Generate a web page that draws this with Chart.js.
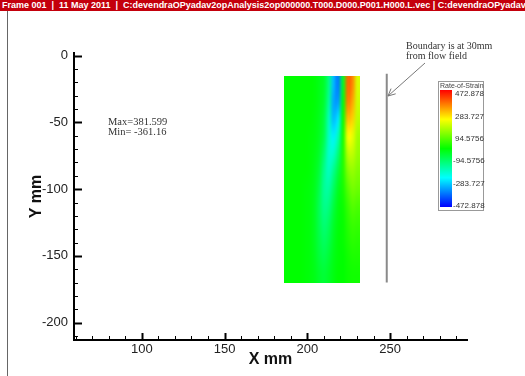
<!DOCTYPE html>
<html>
<head>
<meta charset="utf-8">
<script src="https://cdn.jsdelivr.net/npm/chart.js@4.4.1/dist/chart.umd.min.js"></script>
<style>
body{margin:0;background:#fff;}
#wrap{position:relative;width:525px;height:376px;overflow:hidden;background:#fff;}
#hdr{position:absolute;left:0;top:0;width:523px;height:11px;background:#c4000c;color:#fff;font:bold 9px "Liberation Sans",Arial,sans-serif;line-height:11px;white-space:nowrap;overflow:hidden;padding-left:2px;}
canvas{position:absolute;left:0;top:0;}
</style>
</head>
<body>
<div id="wrap">
<canvas id="cv" width="525" height="376"></canvas>
<div id="hdr">Frame 001 &nbsp;|&nbsp; 11 May 2011 &nbsp;|&nbsp; C:devendraOPyadav2opAnalysis2op000000.T000.D000.P001.H000.L.vec | C:devendraOPyadav2opAnalysis2op000000.T000</div>
</div>
<script>

// axis ranges (mm)
var xRange = [59, 296.5];
var yRange = [-213, 2];

// extent of the measured field (mm)
var fieldX = [185.7, 231.6];
var fieldY = [-15, -170];

// rate-of-strain samples, rows top -> bottom, columns left -> right
var rateOfStrain = [
	[0, 0, 0, 0, 0,  0,  -5, -20, -40, -120, -300, -360, -30, 380, 350, 200],
	[0, 0, 0, 0, 0,  0,  -5, -20, -45, -140, -320, -330, -10, 360, 320, 190],
	[0, 0, 0, 0, 0,  0,  -8, -25, -60, -170, -300, -260,  10, 300, 280, 175],
	[0, 0, 0, 0, 0, -5, -10, -30, -70, -180, -250, -170,  20, 230, 220, 150],
	[0, 0, 0, 0, 0, -5, -15, -40,-100, -190, -190, -110,  30, 170, 180, 140],
	[0, 0, 0, 0, 0, -5, -20, -55,-130, -180, -130,  -60,  30, 120, 140, 120],
	[0, 0, 0, 0,-5,-10, -25, -70,-140, -150,  -90,  -30,  20,  80, 110, 100],
	[0, 0, 0, 0,-5,-10, -30, -80,-130, -120,  -60,  -15,  10,  50,  80,  70],
	[0, 0, 0, 0,-5,-10, -30, -75,-110,  -90,  -40,  -10,   5,  35,  55,  50],
	[0, 0, 0, 0,-5,-10, -30, -65, -90,  -70,  -30,   -5,   5,  25,  40,  35],
	[0, 0, 0, 0,-5,-10, -25, -55, -70,  -50,  -20,   -5,   0,  15,  25,  25],
	[0, 0, 0, 0,-5,-10, -20, -40, -50,  -35,  -15,    0,   0,  10,  15,  15]
];

// boundary line at 30mm from the flow field
var boundaryX = [248, 248];
var boundaryY = [-13.5, -170];

// contour legend
var legendLevels = [472.878, 283.727, 94.5756, -94.5756, -283.727, -472.878];
var legendColors = ['#0000ff', '#00ffff', '#00ff00', '#ffff00', '#ff0000'];
var fieldMax = '381.599';
var fieldMin = '-361.16';

function hexRgb(h){
	return [parseInt(h.substr(1,2),16), parseInt(h.substr(3,2),16), parseInt(h.substr(5,2),16)];
}

function colorFor(v){
	var lo = legendLevels[legendLevels.length-1], hi = legendLevels[0];
	var t = (v - lo) / (hi - lo);
	t = Math.max(0, Math.min(1, t));
	var n = legendColors.length - 1;
	var k = Math.min(n - 1, Math.floor(t * n));
	var f = t * n - k;
	var a = hexRgb(legendColors[k]), b = hexRgb(legendColors[k+1]);
	return [a[0]+(b[0]-a[0])*f, a[1]+(b[1]-a[1])*f, a[2]+(b[2]-a[2])*f];
}

var fieldPlugin = {
	id: 'field',
	beforeDatasetsDraw: function(chart){
		var xs = chart.scales.x, ys = chart.scales.y, ctx = chart.ctx;
		var rows = rateOfStrain.length, cols = rateOfStrain[0].length;
		var off = document.createElement('canvas');
		off.width = cols; off.height = rows;
		var octx = off.getContext('2d');
		var img = octx.createImageData(cols, rows);
		for (var r = 0; r < rows; r++){
			for (var c = 0; c < cols; c++){
				var col = colorFor(rateOfStrain[r][c]);
				var i = (r * cols + c) * 4;
				img.data[i] = col[0]; img.data[i+1] = col[1]; img.data[i+2] = col[2]; img.data[i+3] = 255;
			}
		}
		octx.putImageData(img, 0, 0);
		var x0 = xs.getPixelForValue(fieldX[0]), x1 = xs.getPixelForValue(fieldX[1]);
		var y0 = ys.getPixelForValue(fieldY[0]), y1 = ys.getPixelForValue(fieldY[1]);
		ctx.save();
		ctx.imageSmoothingEnabled = true;
		ctx.imageSmoothingQuality = 'high';
		ctx.drawImage(off, x0, y0, x1 - x0, y1 - y0);
		ctx.restore();
	}
};

// inward tick marks like the original plot
var tickPlugin = {
	id: 'inTicks',
	afterDraw: function(chart){
		var ctx = chart.ctx, xs = chart.scales.x, ys = chart.scales.y, area = chart.chartArea;
		ctx.save();
		ctx.strokeStyle = '#000';
		xs.ticks.forEach(function(t){
			if (t.value % 10 !== 0) return;
			var major = t.value % 50 === 0;
			var px = Math.round(xs.getPixelForValue(t.value)) + 0.5;
			ctx.lineWidth = major ? 2 : 1;
			ctx.beginPath(); ctx.moveTo(px, area.bottom); ctx.lineTo(px, area.bottom - (major ? 7 : 4)); ctx.stroke();
		});
		ys.ticks.forEach(function(t){
			if (t.value % 10 !== 0) return;
			var major = t.value % 50 === 0;
			var py = Math.round(ys.getPixelForValue(t.value)) + 0.5;
			ctx.lineWidth = major ? 2 : 1;
			ctx.beginPath(); ctx.moveTo(area.left, py); ctx.lineTo(area.left + (major ? 8 : 4), py); ctx.stroke();
		});
		ctx.restore();
	}
};

var notePlugin = {
	id: 'notes',
	afterDraw: function(chart){
		var ctx = chart.ctx;
		ctx.save();

		// frame edge
		ctx.strokeStyle = '#666'; ctx.lineWidth = 1;
		ctx.beginPath(); ctx.moveTo(7.5, 11); ctx.lineTo(7.5, 376); ctx.stroke();

		// max / min
		ctx.fillStyle = '#333';
		ctx.font = '10.5px "Liberation Serif", serif';
		ctx.textBaseline = 'middle'; ctx.textAlign = 'left';
		ctx.fillText('Max=' + fieldMax, 108, 122);
		ctx.fillText('Min= ' + fieldMin, 108, 132);

		// boundary note with arrow
		ctx.font = '10px "Liberation Serif", serif';
		ctx.fillText('Boundary is at 30mm', 406, 46);
		ctx.fillText('from flow field', 406, 56);
		ctx.strokeStyle = '#777'; ctx.lineWidth = 1;
		var tx = 388, ty = 96, sx = 425, sy = 63;
		ctx.beginPath(); ctx.moveTo(sx, sy); ctx.lineTo(tx, ty); ctx.stroke();
		var ang = Math.atan2(sy - ty, sx - tx);
		ctx.beginPath();
		ctx.moveTo(tx + 8 * Math.cos(ang + 0.45), ty + 8 * Math.sin(ang + 0.45));
		ctx.lineTo(tx, ty);
		ctx.lineTo(tx + 8 * Math.cos(ang - 0.45), ty + 8 * Math.sin(ang - 0.45));
		ctx.stroke();

		// colour legend
		var bx = 440, by0 = 90, by1 = 207;
		ctx.strokeStyle = '#999';
		ctx.strokeRect(438.5, 81.5, 45, 129);
		var g = ctx.createLinearGradient(0, by1, 0, by0);
		legendColors.forEach(function(c, i){ g.addColorStop(i / (legendColors.length - 1), c); });
		ctx.fillStyle = g;
		ctx.fillRect(bx, by0, 12, by1 - by0);
		ctx.fillStyle = '#444';
		ctx.font = '7px "Liberation Sans", Arial, sans-serif';
		ctx.fillText('Rate-of-Strain', 440, 86);
		ctx.font = '8px "Liberation Sans", Arial, sans-serif';
		ctx.fillStyle = '#333';
		legendLevels.forEach(function(v, i){
			var y = 94 + i * (206 - 94) / (legendLevels.length - 1);
			ctx.fillText(String(v), v < 0 ? 453 : 455, y);
		});
		ctx.restore();
	}
};

var labelFont = { family: '"Liberation Sans", Arial, sans-serif', size: 13 };
var titleFont = { family: '"Liberation Sans", Arial, sans-serif', size: 16, weight: 'bold' };

new Chart(document.getElementById('cv'), {
	type: 'scatter',
	data: {
		datasets: [{
			data: boundaryX.map(function(x, i){ return { x: x, y: boundaryY[i] }; }),
			showLine: true,
			borderColor: '#8a8a8a',
			borderWidth: 2,
			pointRadius: 0
		}]
	},
	options: {
		responsive: false,
		animation: false,
		layout: { padding: { top: 53, right: 58, bottom: 0, left: 0 } },
		plugins: { legend: { display: false }, tooltip: { enabled: false } },
		scales: {
			x: {
				type: 'linear',
				min: xRange[0], max: xRange[1],
				afterFit: function(s){ s.height = 36; },
				border: { display: true, color: '#000', width: 2 },
				grid: { display: true, drawOnChartArea: false, drawTicks: false },
				ticks: {
					stepSize: 10, includeBounds: false, autoSkip: false, maxRotation: 0,
					padding: 2, color: '#222', font: labelFont,
					callback: function(v){ return v % 50 === 0 ? String(v) : ''; }
				},
				title: { display: true, text: 'X mm', color: '#111', font: titleFont, padding: { top: 0, bottom: 7 } }
			},
			y: {
				type: 'linear',
				min: yRange[0], max: yRange[1],
				afterFit: function(s){ s.width = 74; },
				border: { display: true, color: '#000', width: 2 },
				grid: { display: true, drawOnChartArea: false, drawTicks: false },
				ticks: {
					stepSize: 10, includeBounds: false, autoSkip: false,
					padding: 6, color: '#222', font: labelFont,
					callback: function(v){ return v % 50 === 0 ? String(v) : ''; }
				},
				title: { display: true, text: 'Y mm', color: '#111', font: titleFont, padding: { top: 27, bottom: 0 } }
			}
		}
	},
	plugins: [fieldPlugin, tickPlugin, notePlugin]
});
</script>
</body>
</html>
